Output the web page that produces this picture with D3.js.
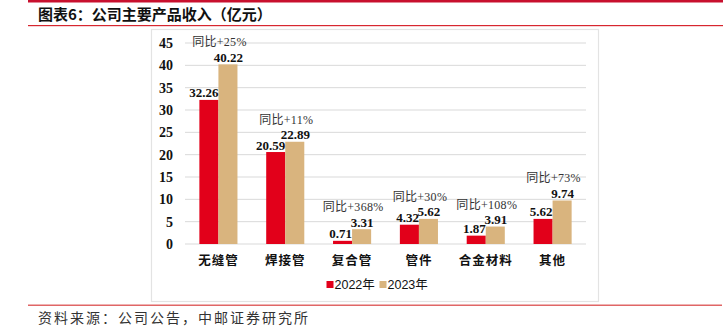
<!DOCTYPE html>
<html><head><meta charset="utf-8">
<script src="https://cdn.jsdelivr.net/npm/d3@7"></script>
<style>body{margin:0;background:#fff;}svg{display:block;}</style>
</head><body>
<svg id="c" width="728" height="326"></svg>
<script>
const categories = ["无缝管","焊接管","复合管","管件","合金材料","其他"];
const series = ["2022年","2023年"];
const values2022 = [32.26,20.59,0.71,4.32,1.87,5.62];
const values2023 = [40.22,22.89,3.31,5.62,3.91,9.74];
const yoyLabels = ["同比+25%","同比+11%","同比+368%","同比+30%","同比+108%","同比+73%"];
const yTicks = [0,5,10,15,20,25,30,35,40,45];
const colors = ["#E2001A","#D9B47E"];

const svg = d3.select("#c");
const serif = "'Liberation Serif','Times New Roman',serif";
const cjk = "'Liberation Serif','Noto Sans CJK SC',serif";

// header lines & title
svg.append("rect").attr("x",28).attr("y",0).attr("width",695).attr("height",2.5).attr("fill","#C8102E");
svg.append("rect").attr("x",28).attr("y",25).attr("width",695).attr("height",1.2).attr("fill","#D7262F");
svg.append("text").attr("x",38).attr("y",20).attr("font-family","'Noto Sans CJK SC'").attr("font-weight","bold")
  .attr("font-size",15).attr("fill","#111").text("图表6：公司主要产品收入（亿元）");
// chart frame
svg.append("rect").attr("x",151.5).attr("y",29.5).attr("width",447).attr("height",272).attr("fill","#fff").attr("stroke","#E3E3E3").attr("stroke-width",1.2);
// footer
svg.append("rect").attr("x",28).attr("y",304.5).attr("width",694).attr("height",1.5).attr("fill","#E06666");
svg.append("text").attr("x",38).attr("y",323).attr("font-family","'Noto Sans CJK SC'").attr("font-size",14)
  .attr("letter-spacing","2px").attr("fill","#333").text("资料来源：公司公告，中邮证券研究所");

const y = d3.scaleLinear().domain([0,45]).range([244,43]);
const x0 = d3.scaleBand().domain(categories).range([185,586]).paddingInner(0.43).paddingOuter(0.215);
const x1 = d3.scaleBand().domain(series).range([0,x0.bandwidth()]);

// grid
svg.append("g").selectAll("line").data(yTicks).join("line")
  .attr("x1",185).attr("x2",586).attr("y1",d=>y(d)).attr("y2",d=>y(d))
  .attr("stroke","#D9D9D9").attr("stroke-width",1);

// y axis labels
const yAxis = d3.axisLeft(y).tickValues(yTicks).tickSize(0).tickPadding(0);
const ga = svg.append("g").attr("transform","translate(173,0)").call(yAxis);
ga.select(".domain").remove();
ga.selectAll("text").attr("font-family",serif).attr("font-weight","bold").attr("font-size",14).attr("fill","#111");

const data = categories.map((c,i)=>({c, v:[values2022[i],values2023[i]], yoy:yoyLabels[i]}));
const g = svg.append("g").selectAll("g").data(data).join("g").attr("transform",d=>`translate(${x0(d.c)},0)`);
g.selectAll("rect").data(d=>d.v.map((v,k)=>({v,k}))).join("rect")
  .attr("x",d=>x1(series[d.k])).attr("width",x1.bandwidth())
  .attr("y",d=>y(d.v)).attr("height",d=>y(0)-y(d.v)).attr("fill",d=>colors[d.k]);
// value labels
g.selectAll("text.v").data(d=>d.v.map((v,k)=>({v,k}))).join("text").attr("class","v")
  .attr("x",d=>d.k===0 ? x1(series[1]) : x1(series[1])+x1.bandwidth()/2+0.5)
  .attr("y",d=>y(d.v)-2.5)
  .attr("text-anchor",d=>d.k===0?"end":"middle")
  .attr("font-family",serif).attr("font-weight","bold").attr("font-size",13).attr("fill","#111")
  .text(d=>d.v.toFixed(2));
// yoy labels
g.append("text").attr("x",x0.bandwidth()/2+1).attr("y",d=>y(d.v[1])-18)
  .attr("text-anchor","middle").attr("font-family",cjk).attr("font-size",12).attr("fill","#333")
  .attr("letter-spacing","0.3px")
  .text(d=>d.yoy);
// category labels
svg.append("g").selectAll("text").data(categories).join("text")
  .attr("x",d=>x0(d)+x0.bandwidth()/2).attr("y",265).attr("text-anchor","middle")
  .attr("font-family","'Noto Sans CJK SC'").attr("font-size",12.5).attr("font-weight","bold").attr("fill","#111")
  .attr("letter-spacing","1px")
  .text(d=>d);
// legend
const lg = svg.append("g").selectAll("g").data(series).join("g")
  .attr("transform",(d,i)=>`translate(${i===0?326.5:379.5},0)`);
lg.append("rect").attr("x",0).attr("y",281).attr("width",7).attr("height",7).attr("fill",(d,i)=>colors[i]);
lg.append("text").attr("x",8).attr("y",289).attr("font-family","'Liberation Sans',Arial,'Noto Sans CJK SC',sans-serif")
  .attr("font-size",12.5).attr("fill","#111").text(d=>d);
</script>
</body></html>
